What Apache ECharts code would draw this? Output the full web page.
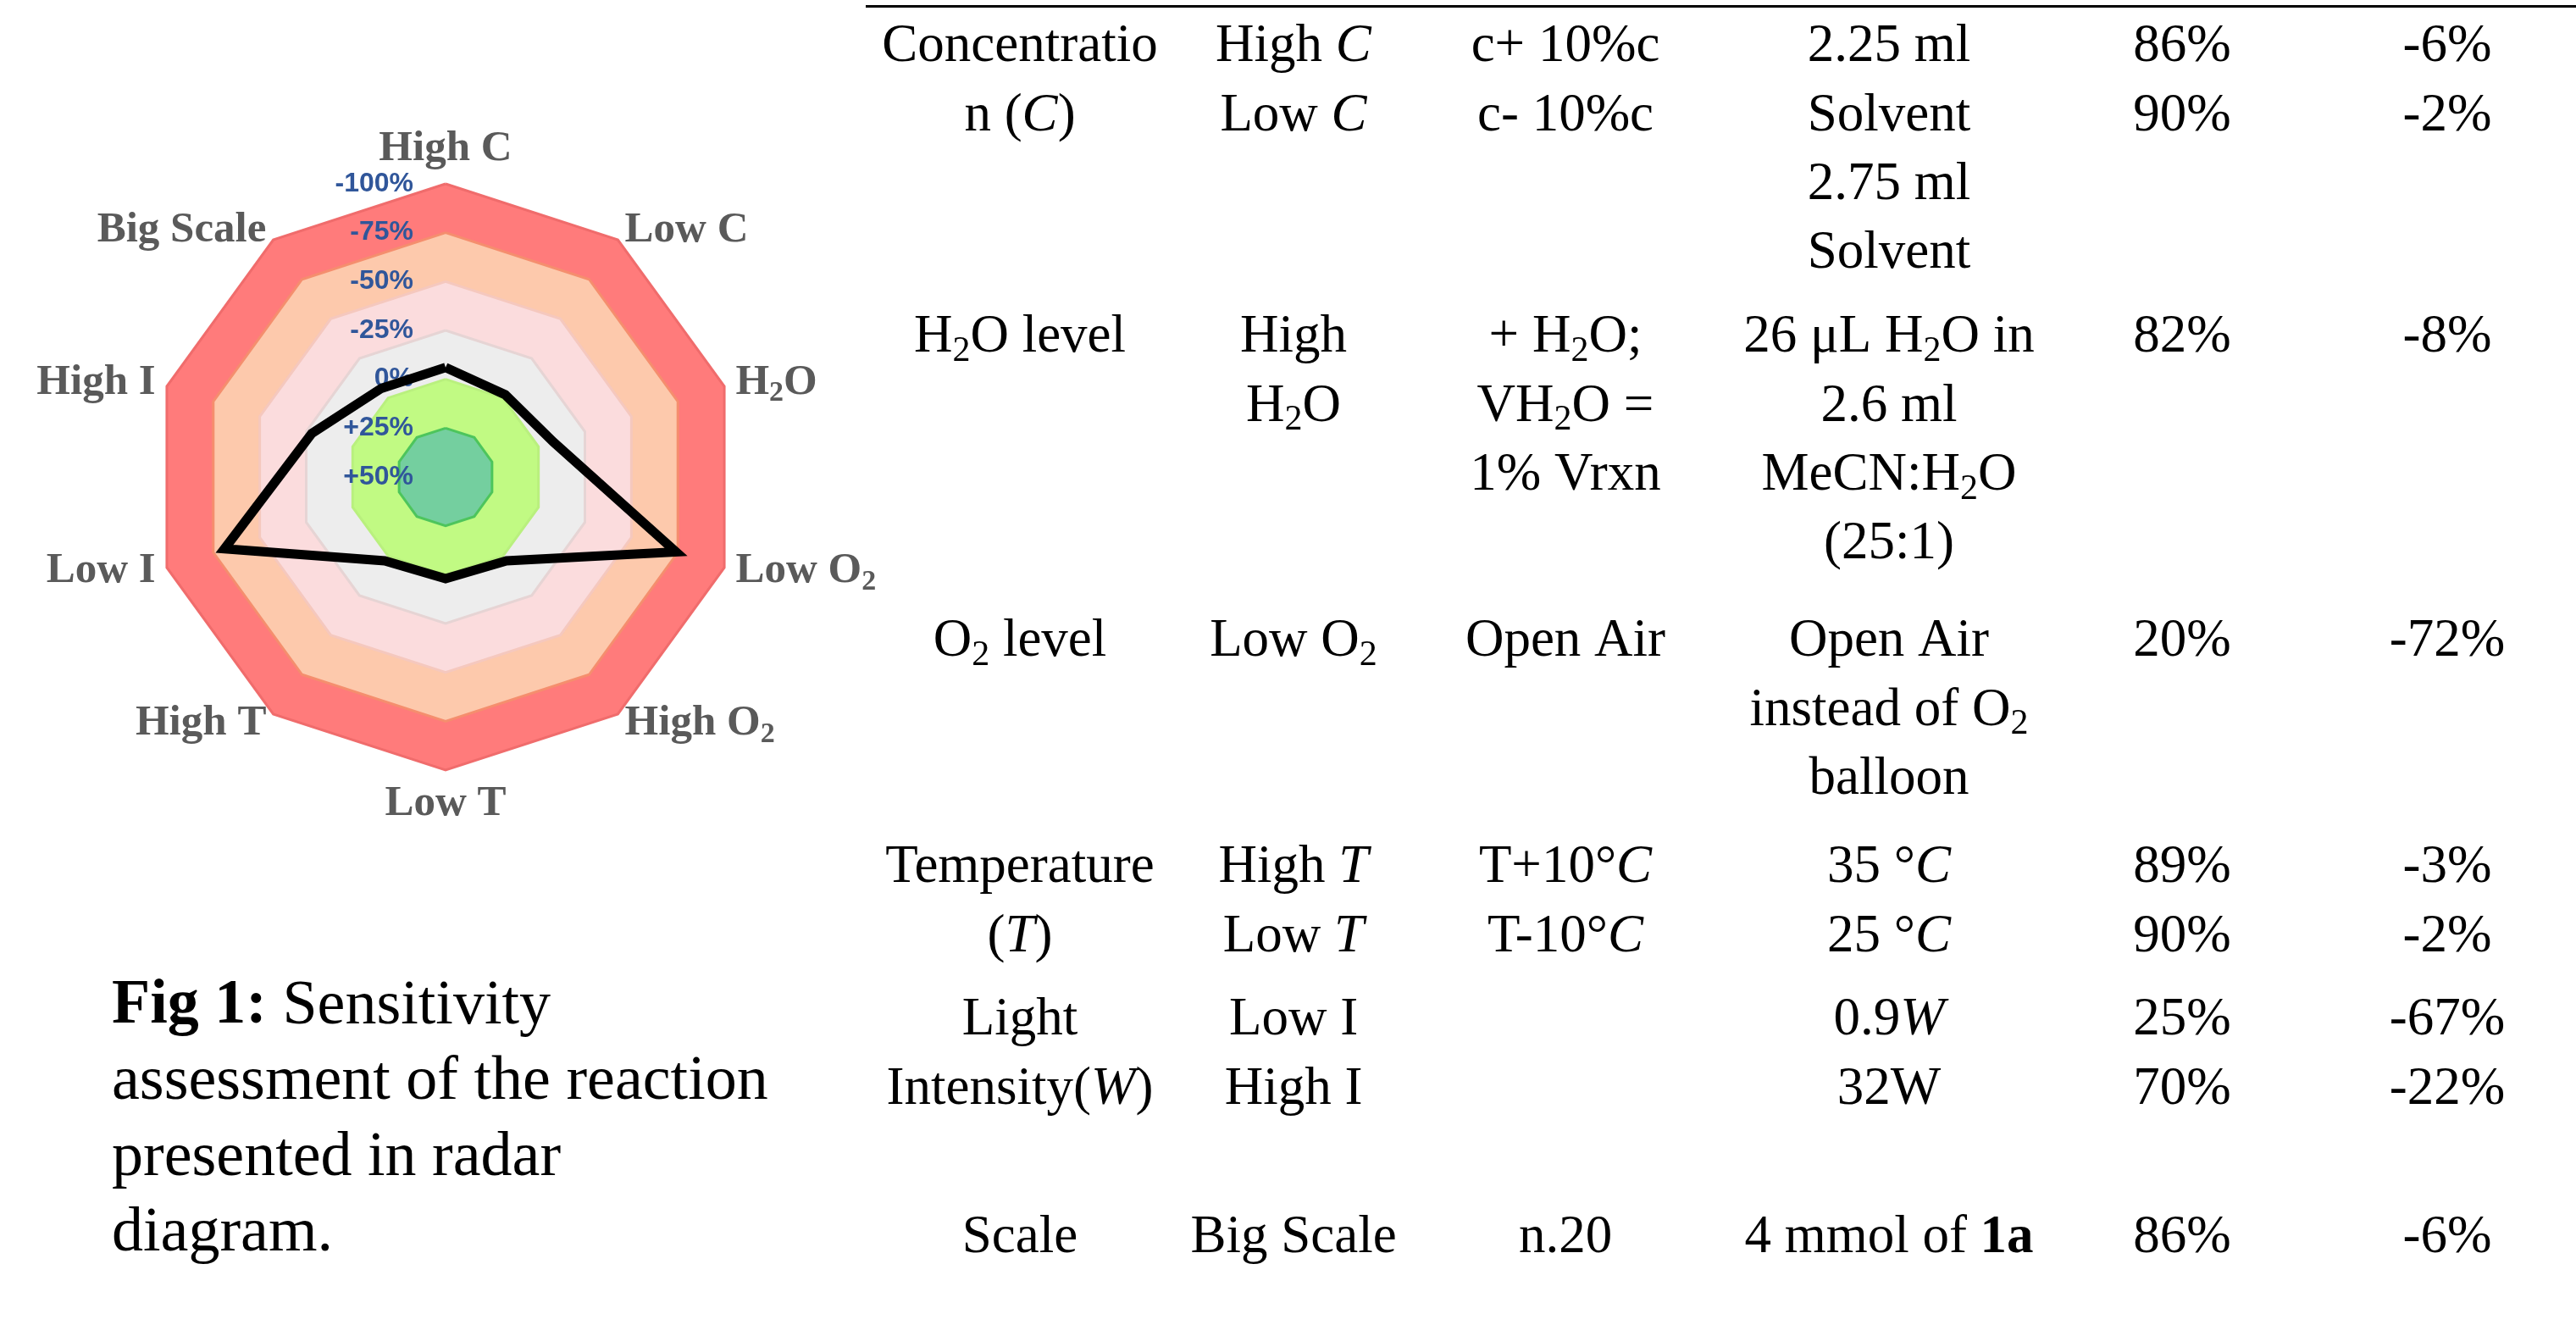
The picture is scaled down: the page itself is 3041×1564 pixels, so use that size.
<!DOCTYPE html>
<html><head><meta charset="utf-8">
<script src="https://cdn.jsdelivr.net/npm/echarts@6/dist/echarts.min.js"></script>
<style>html,body{margin:0;padding:0;background:#fff}#c{width:3041px;height:1564px}</style>
</head><body><div id="c"></div>
<script>
// ---------- radar data (yield change in %) ----------
// listed counter-clockwise from the top, as ECharts lays indicators out
const radarAxes   = ['High C', 'Big Scale', 'High I', 'Low I', 'High T', 'Low T', 'High O2', 'Low O2', 'H2O', 'Low C'];
const radarValues = [-6, -6, -22, -69, -3, -2, -3, -74, -8, -2];
const radarMinChange = 50;    // centre of the diagram = +50%
const radarMaxLoss = 100;     // outer ring = -100%

// ---------- table data ----------
const colParameter = [['Concentratio', 'n ({i|C})'], ['H{s|2}O level'], ['O{s|2} level'], ['Temperature', '({i|T})'], ['Light', 'Intensity({i|W})'], ['Scale']];
const colVariation = [['High {i|C}', 'Low {i|C}'], ['High', 'H{s|2}O'], ['Low O{s|2}'], ['High {i|T}', 'Low {i|T}'], ['Low I', 'High I'], ['Big Scale']];
const colChange    = [['c+ 10%c', 'c- 10%c'], ['+ H{s|2}O;', 'VH{s|2}O =', '1% Vrxn'], ['Open Air'], ['T+10°{i|C}', 'T-10°{i|C}'], [], ['n.20']];
const colCondition = [['2.25 ml', 'Solvent', '2.75 ml', 'Solvent'], ['26 μL H{s|2}O in', '2.6 ml', 'MeCN:H{s|2}O', '(25:1)'], ['Open Air', 'instead of O{s|2}', 'balloon'], ['35 °{i|C}', '25 °{i|C}'], ['0.9{i|W}', '32W'], ['4 mmol of {b|1a}']];
const colYield     = [['86%', '90%'], ['82%'], ['20%'], ['89%', '90%'], ['25%', '70%'], ['86%']];
const colDelta     = [['-6%', '-2%'], ['-8%'], ['-72%'], ['-3%', '-2%'], ['-67%', '-22%'], ['-6%']];

const captionLines = ['{b|Fig 1:} Sensitivity', 'assessment of the reaction', 'presented in radar', 'diagram.'];

// ---------- layout ----------
const MID = 0.24;
const groupBaselines = [71, 414, 773, 1040, 1220, 1477];
const lineStep = 81.3;
const colX = [1204, 1527, 1848, 2230, 2576, 2889];
const serif = 'Liberation Serif';
const TS = 63;

const tableRich = {
  i: {fontFamily: serif, fontSize: TS, fontStyle: 'italic', fill: '#000'},
  b: {fontFamily: serif, fontSize: TS, fontWeight: 'bold', fill: '#000'},
  s: {fontFamily: serif, fontSize: 42, fill: '#000', padding: [32, 0, 0, 0]}
};

const elements = [];
elements.push({type: 'line', shape: {x1: 1022, y1: 7.5, x2: 3041, y2: 7.5}, style: {stroke: '#000', lineWidth: 3}});

function addText(x, baseline, text, size, align, rich) {
  elements.push({
    type: 'text', x: x, y: baseline - MID * size, silent: true,
    style: {text: text, fontFamily: serif, fontSize: size, fill: '#000',
      align: align, textAlign: align, verticalAlign: 'middle', textVerticalAlign: 'middle', rich: rich}
  });
}

[colParameter, colVariation, colChange, colCondition, colYield, colDelta].forEach(function (col, c) {
  col.forEach(function (lines, g) {
    lines.forEach(function (t, k) {
      addText(colX[c], groupBaselines[g] + k * lineStep, t, TS, 'center', tableRich);
    });
  });
});

const capRich = {b: {fontFamily: serif, fontSize: 74, fontWeight: 'bold', fill: '#000'}};
captionLines.forEach(function (t, k) {
  addText(132, 1206 + k * 89.5, t, 74, 'left', capRich);
});

// ---------- chart ----------
const chart = echarts.init(document.getElementById('c'), null, {renderer: 'canvas'});
const nameColor = '#5a5a5a';
chart.setOption({
  animation: false,
  backgroundColor: '#fff',
  radar: {
    center: [526, 563],
    radius: 346,
    startAngle: 90,
    shape: 'polygon',
    splitNumber: 6,
    nameGap: 14,
    indicator: radarAxes.map(function (n, i) {
      const ind = {name: n, min: -radarMinChange, max: radarMaxLoss};
      if (i === 0) ind.axisLabel = {show: true};
      return ind;
    }),
    axisName: {
      color: nameColor, fontFamily: serif, fontWeight: 'bold', fontSize: 51,
      formatter: function (n) { return n.replace(/([HO])2/, '$1{s|2}'); },
      rich: {s: {color: nameColor, fontFamily: serif, fontWeight: 'bold', fontSize: 34, padding: [25, 0, 0, 0]}}
    },
    axisLine: {show: false},
    axisTick: {show: false},
    axisLabel: {
      show: false, color: '#30569A', fontFamily: 'Liberation Sans', fontWeight: 'bold', fontSize: 32, margin: 38,
      formatter: function (v) { const d = -v; return (d > 0 ? '+' + d : '' + d) + '%'; }
    },
    splitLine: {lineStyle: {width: 3, color: ['#4DC55C', '#4DC55C', '#B9F07E', '#E6D4D4', '#F5C8BE', '#F58E6E', '#F06C6C']}},
    splitArea: {areaStyle: {color: ['#74CF9F', '#C1FA83', '#EDEDED', '#FBDCDD', '#FDC9AC', '#FF7B7B'], opacity: 1}}
  },
  series: [{
    type: 'radar', symbol: 'none', silent: true, z: 5,
    lineStyle: {color: '#000', width: 11, join: 'miter', miterLimit: 20},
    data: [{value: radarValues.map(function (v) { return -v; })}]
  }],
  graphic: {elements: elements}
});
</script></body></html>
